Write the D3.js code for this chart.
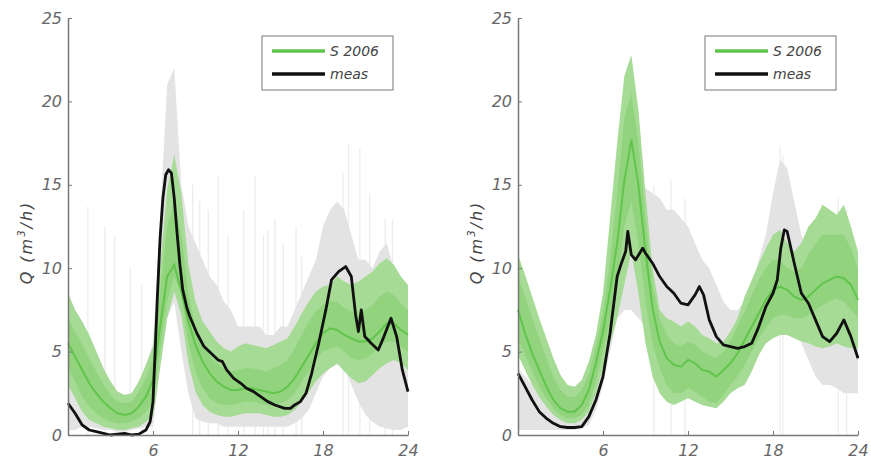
<!DOCTYPE html>
<html>
<head>
<meta charset="utf-8">
<script src="https://cdn.jsdelivr.net/npm/d3@7"></script>
<style>
  body{margin:0;background:#fff}
  text{font-family:"DejaVu Sans",sans-serif}
</style>
</head>
<body>
<div id="chart"></div>
<script>
// half-hour grid shared by the bands and mean curves
const hours=[0,0.5,1,1.5,2,2.5,3,3.5,4,4.5,5,5.5,6,6.5,7,7.5,8,8.5,9,9.5,10,10.5,11,11.5,12,12.5,13,13.5,14,14.5,15,15.5,16,16.5,17,17.5,18,18.5,19,19.5,20,20.5,21,21.5,22,22.5,23,23.5,24];

// ---- left panel ----
const meanL=[5.5,4.7,3.9,3.1,2.5,2.0,1.6,1.3,1.2,1.3,1.7,2.3,3.3,6.5,9.5,10.2,8.6,6.8,5.4,4.4,3.7,3.2,2.9,2.7,2.7,2.8,2.8,2.7,2.6,2.5,2.6,2.9,3.4,4.1,4.8,5.5,6.1,6.4,6.3,6.0,5.8,5.6,5.6,5.8,6.2,6.7,6.7,6.3,6.0];
const outerHiL=[8.5,7.5,6.8,6.0,5.0,4.0,3.2,2.6,2.4,2.5,3.2,4.2,5.3,10.0,14.7,16.8,14.5,10.2,8.0,6.8,6.2,5.6,5.2,5.0,5.3,5.5,5.4,5.3,5.2,5.4,5.6,5.8,6.5,7.3,8.0,8.6,8.9,9.0,9.5,9.2,9.0,9.2,9.5,9.8,10.3,10.6,10.2,9.5,9.0];
const outerLoL=[3.0,2.2,1.4,0.9,0.7,0.5,0.4,0.3,0.3,0.4,0.5,0.8,1.1,4.0,7.0,8.6,7.2,4.3,2.6,1.8,1.4,1.2,1.1,1.1,1.2,1.3,1.3,1.3,1.2,1.1,1.1,1.2,1.5,2.0,2.6,3.2,3.7,4.0,4.3,3.8,3.4,3.1,3.2,3.6,4.0,4.3,4.5,4.3,3.9];
const innerHiL=[7.0,6.2,5.4,4.6,3.8,3.0,2.4,2.0,1.9,2.0,2.6,3.4,4.5,8.5,12.5,14.0,12.0,8.5,6.5,5.4,4.8,4.3,4.0,3.8,3.9,4.0,4.0,3.9,3.8,4.0,4.2,4.5,5.2,6.0,6.8,7.4,7.8,8.0,8.0,7.6,7.4,7.3,7.5,7.8,8.3,8.6,8.4,7.9,7.5];
const innerLoL=[4.0,3.2,2.3,1.7,1.3,1.0,0.8,0.7,0.7,0.8,1.0,1.4,2.0,5.0,8.0,9.5,8.5,5.5,3.8,2.8,2.2,1.9,1.8,1.8,1.9,2.0,2.0,1.9,1.8,1.8,1.9,2.1,2.5,3.2,3.8,4.5,5.0,5.2,5.3,5.0,4.6,4.5,4.6,4.9,5.3,5.6,5.6,5.3,5.0];
const grayHiL=[8.5,7.5,6.8,6.0,5.0,4.0,3.2,2.6,2.4,2.5,3.2,4.2,5.5,13,21,22,15,12.5,11.5,10.5,9.5,9.0,8.0,7.5,6.5,6.5,6.5,6.5,6.0,6.0,6.5,6.5,7.5,8.5,9.5,10.5,12.5,13.5,14,13.5,12,10.5,10.5,10,11,11.5,10,9,8.5];
const grayLoL=[0.3,0.3,0.5,0.5,0.4,0.3,0.3,0.2,0.2,0.3,0.4,0.5,0.5,4,7,8,5,2.5,1,0.8,0.7,0.7,0.5,0.5,0.5,0.5,0.5,0.5,0.5,0.5,0.5,0.5,0.7,1,1.5,2.5,3.5,4,4.2,4,3,2,1.2,0.8,0.5,0.4,0.3,0.3,0.5];
const spikesL=[[1.4,13.7],[2.6,12.5],[3.3,12],[4.4,10],[5.2,9],[8.8,15],[9.3,14],[9.9,13.5],[10.6,15.5],[11.3,12],[12.4,13.5],[13.2,15.5],[13.8,12],[14.1,12.3],[14.6,13],[15.2,11.5],[16.1,12.5],[16.5,10.7],[19.4,15.7],[19.8,17.5],[20.6,17.2],[21.3,14.5],[22.4,13],[22.9,12.9]];
const measHoursL=[0,0.5,1,1.5,2,2.5,3,3.5,4,4.5,5,5.5,5.8,6.0,6.15,6.3,6.5,6.7,6.9,7.1,7.3,7.5,7.7,7.9,8.1,8.4,8.6,9.1,9.6,10.1,10.6,10.9,11.2,11.7,12.2,12.6,13.1,13.6,14.1,14.6,15.3,15.7,16.0,16.4,16.8,17.2,17.7,18.2,18.6,19.1,19.6,20.0,20.3,20.5,20.7,20.95,21.4,21.9,22.3,22.8,23.2,23.6,24.0];
const measL=[1.9,1.3,0.6,0.3,0.2,0.1,0.0,0.05,0.1,0.0,0.05,0.3,0.8,2.0,5.0,8.1,11.8,14.2,15.6,15.9,15.7,14.2,12.1,10.2,8.7,7.6,7.1,6.1,5.3,4.9,4.5,4.4,3.9,3.4,3.1,2.8,2.6,2.3,2.0,1.8,1.6,1.6,1.8,2.0,2.5,3.7,5.5,7.5,9.3,9.8,10.1,9.5,7.2,6.2,7.5,5.9,5.5,5.1,5.9,7.0,5.9,3.9,2.6];

// ---- right panel ----
const meanR=[7.5,6.1,4.9,3.9,2.9,2.1,1.6,1.4,1.4,1.8,2.7,4.3,6.2,8.7,11.5,15.2,17.7,15.0,11.0,7.6,5.6,4.6,4.2,4.1,4.5,4.3,3.9,3.8,3.5,3.9,4.3,4.9,5.7,6.5,7.3,8.1,8.7,8.9,8.7,8.3,8.1,8.3,8.7,9.1,9.3,9.5,9.4,9.0,8.1];
const outerHiR=[10.8,9.6,8.3,7.0,5.8,4.6,3.6,3.0,2.9,3.3,4.4,6.0,8.5,13,17.5,21.5,22.8,19.5,14.5,10,7.5,7.0,6.8,6.5,6.8,6.5,6.0,5.8,5.5,5.6,6.2,7.0,8.3,9.3,10.3,11.2,12.0,12.3,11.5,11.0,11.5,12.5,13.0,13.8,13.5,13.2,13.8,12.5,11.0];
const outerLoR=[4.8,3.9,3.0,2.3,1.7,1.2,0.9,0.7,0.7,0.9,1.4,2.5,4.0,5.5,7.0,9.0,11.0,8.5,5.5,3.5,2.5,2.0,1.8,2.0,2.2,2.0,1.8,1.7,1.6,2.0,2.5,2.8,3.0,3.8,4.8,5.5,5.8,6.0,6.0,5.8,5.6,5.5,5.3,5.2,5.3,5.5,5.3,5.2,5.2];
const innerHiR=[9.5,8.3,7.0,5.8,4.6,3.5,2.7,2.3,2.3,2.7,3.6,5.3,7.3,10.5,14.5,19.0,20.5,17.5,13.0,9.0,7.0,6.0,5.5,5.3,5.6,5.4,5.0,4.8,4.6,5.0,5.6,6.5,7.4,8.4,9.3,10.0,10.5,10.5,10.0,9.8,10.0,10.8,11.5,12.0,12.0,12.0,12.0,11.2,10.0];
const innerLoR=[5.8,4.8,3.8,2.9,2.2,1.6,1.2,1.0,1.0,1.2,1.8,3.2,5.0,7.0,9.0,12.5,14.0,11.5,8.0,5.5,4.0,3.0,2.5,2.5,2.8,2.6,2.3,2.0,1.9,2.4,3.0,3.5,4.2,5.0,5.8,6.4,7.0,7.2,7.2,7.0,7.0,7.2,7.5,7.8,8.0,8.2,8.0,7.5,7.0];
const grayHiR=[4,3.5,3,2.5,2,1.8,1.8,1.8,2,2.5,3.5,4.5,6,8.5,11,12.5,13.5,14.5,14.8,14.5,14.2,13.5,13.5,13,12.5,11.5,10.5,10,9,8,7.5,7.5,8,9,10.5,12,14.5,16.5,16,14,12,11,10.5,10,9.5,9.5,9.5,9.5,9];
const grayLoR=[0.3,0.3,0.3,0.3,0.3,0.3,0.3,0.3,0.3,0.4,0.6,1.5,3,5,7,7.5,7.5,7,6.5,6,5.5,5.5,5,5,5,5,5,4.5,4,4,4,4,4.5,5,5.5,6,6.5,7,7,6.5,5.5,4.5,3.5,3,3,2.8,2.5,2.5,2.5];
const spikesR=[[9.6,15.0],[10.8,15.3],[11.8,14.2],[18.5,17.3],[18.7,16.8],[22.6,14.2],[23.2,13.5]];
const measHoursR=[0,0.5,1,1.5,2,2.5,3,3.5,4,4.5,5,5.5,6,6.5,7,7.3,7.6,7.75,8.0,8.3,8.8,9.0,9.5,10,10.5,11,11.5,12,12.5,12.8,13.1,13.5,14,14.5,15,15.5,16,16.5,17,17.5,18,18.3,18.55,18.8,19.0,19.5,20,20.5,21,21.5,22,22.5,23,23.5,24];
const measR=[3.7,2.9,2.1,1.4,1.0,0.7,0.5,0.45,0.45,0.5,1.1,2.1,3.5,6.1,9.5,10.3,11.0,12.2,10.8,10.5,11.2,10.9,10.3,9.5,8.9,8.5,7.9,7.8,8.4,8.9,8.4,6.9,5.9,5.4,5.3,5.2,5.3,5.5,6.5,7.7,8.5,9.3,11.2,12.3,12.2,10.3,8.5,7.9,6.9,5.9,5.6,6.1,6.9,5.9,4.6];

const yTicks=[0,5,10,15,20,25];
const xTicks=[6,12,18,24];
const legendLabels=['S 2006','meas'];

const W=871,H=464;
const C={gray:'#e3e3e3',spike:'#ededed',outer:'#a6db95',inner:'#8ad175',mean:'#62c44c',meas:'#111',axis:'#777',tick:'#666'};

const svg=d3.select('#chart').append('svg').attr('width',W).attr('height',H);

const panels=[
  {x0:68,x1:408,lx:262,mean:meanL,oHi:outerHiL,oLo:outerLoL,iHi:innerHiL,iLo:innerLoL,gHi:grayHiL,gLo:grayLoL,spikes:spikesL,mh:measHoursL,m:measL},
  {x0:518,x1:858,lx:705,mean:meanR,oHi:outerHiR,oLo:outerLoR,iHi:innerHiR,iLo:innerLoR,gHi:grayHiR,gLo:grayLoR,spikes:spikesR,mh:measHoursR,m:measR}
];

panels.forEach(p=>{
  const g=svg.append('g');
  const x=d3.scaleLinear().domain([0,24]).range([p.x0,p.x1]);
  const y=d3.scaleLinear().domain([0,25]).range([435,18]);
  const band=(hi,lo)=>d3.area().x((d,i)=>x(hours[i])).y0((d,i)=>y(lo[i])).y1((d,i)=>y(hi[i]))(hours);

  // faint gray spikes
  g.append('g').selectAll('line').data(p.spikes).join('line')
    .attr('x1',d=>x(d[0])).attr('x2',d=>x(d[0]))
    .attr('y1',y(0)).attr('y2',d=>y(d[1]))
    .attr('stroke',C.spike).attr('stroke-width',1.3);

  g.append('path').attr('d',band(p.gHi,p.gLo)).attr('fill',C.gray);
  g.append('path').attr('d',band(p.oHi,p.oLo)).attr('fill',C.outer);
  g.append('path').attr('d',band(p.iHi,p.iLo)).attr('fill',C.inner).attr('opacity',0.75);

  g.append('path').datum(p.mean)
    .attr('d',d3.line().x((d,i)=>x(hours[i])).y(d=>y(d)))
    .attr('fill','none').attr('stroke',C.mean).attr('stroke-width',2);

  g.append('path').datum(p.m)
    .attr('d',d3.line().x((d,i)=>x(p.mh[i])).y(d=>y(d)))
    .attr('fill','none').attr('stroke',C.meas).attr('stroke-width',2.8).attr('stroke-linejoin','round');

  // axes
  const ya=g.append('g').attr('transform',`translate(${p.x0},0)`)
    .call(d3.axisLeft(y).tickValues(yTicks).tickSizeInner(-4).tickSizeOuter(0).tickPadding(6));
  const xa=g.append('g').attr('transform',`translate(0,${y(0)})`)
    .call(d3.axisBottom(x).tickValues(xTicks).tickSizeInner(-4).tickSizeOuter(0).tickPadding(10));
  [ya,xa].forEach(a=>{
    a.select('.domain').attr('stroke',C.axis).attr('stroke-width',1.5);
    a.selectAll('.tick line').attr('stroke',C.axis);
    a.selectAll('.tick text').attr('fill',C.tick).attr('font-size',16).attr('font-style','italic')
      .attr('font-family','"DejaVu Sans",sans-serif');
  });

  // y label
  const yl=g.append('text')
    .attr('transform',`translate(${p.x0-36},${(y(0)+y(25))/2+16}) rotate(-90)`)
    .attr('text-anchor','middle').attr('fill','#444').attr('font-size',16).attr('font-style','italic')
    .attr('letter-spacing',2);
  yl.append('tspan').text('Q (m');
  yl.append('tspan').attr('font-size',10).attr('dy',-7).text('3');
  yl.append('tspan').attr('dy',7).text('/h)');

  // legend
  const lg=g.append('g').attr('transform',`translate(${p.lx},36)`);
  lg.append('rect').attr('width',131).attr('height',54).attr('fill','#fff').attr('stroke','#777').attr('stroke-width',1);
  [C.mean,C.meas].forEach((c,i)=>{
    lg.append('line').attr('x1',10).attr('x2',63).attr('y1',15+i*23).attr('y2',15+i*23)
      .attr('stroke',c).attr('stroke-width',3.5);
    lg.append('text').attr('x',68).attr('y',20+i*23).attr('font-size',14).attr('font-style','italic')
      .attr('fill','#444').text(legendLabels[i]);
  });
});
</script>
</body>
</html>
